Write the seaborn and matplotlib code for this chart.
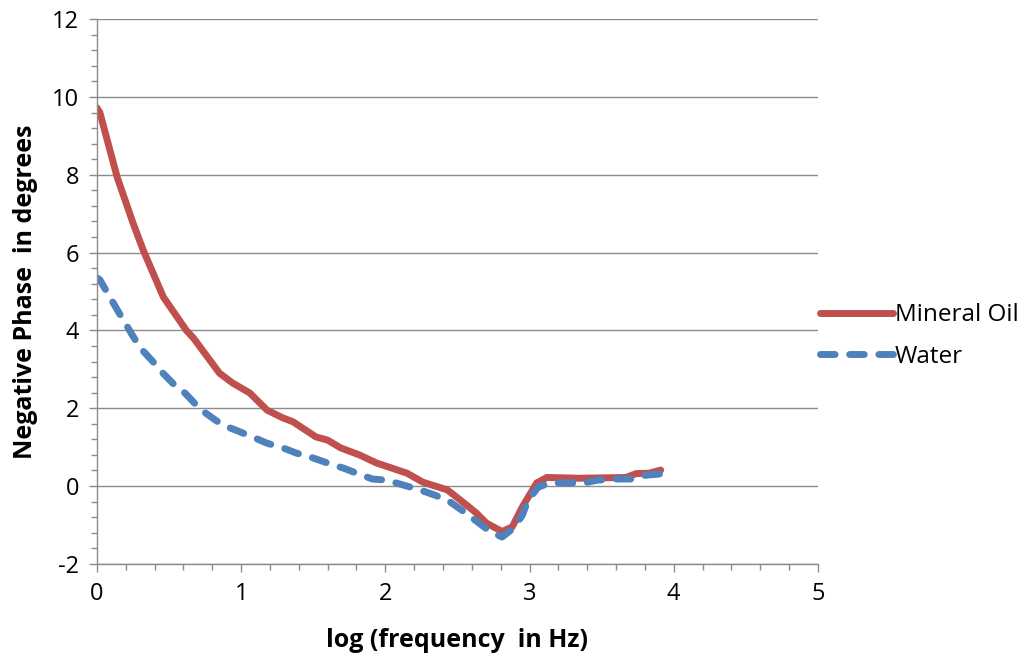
import matplotlib
matplotlib.use("Agg")
import matplotlib.pyplot as plt
import seaborn as sns
import pandas as pd
from matplotlib.ticker import MultipleLocator

sns.set_theme(style="white")
plt.rcParams['font.family'] = ['Open Sans', 'DejaVu Sans']
plt.rcParams['axes.unicode_minus'] = False
plt.rcParams['text.color'] = 'black'
plt.rcParams['axes.labelcolor'] = 'black'

oil_x = [0.0, 0.02, 0.14, 0.25, 0.32, 0.46, 0.62, 0.67, 0.85, 0.94, 1.06, 1.18, 1.29, 1.36,
         1.52, 1.60, 1.69, 1.82, 1.94, 2.03, 2.15, 2.26, 2.43, 2.52, 2.63, 2.70, 2.81, 2.88,
         2.95, 3.05, 3.12, 3.35, 3.67, 3.74, 3.83, 3.91]
oil_y = [9.72, 9.6, 7.94, 6.76, 6.07, 4.86, 4.0, 3.8, 2.9, 2.65, 2.39, 1.95, 1.75, 1.65,
         1.26, 1.18, 0.98, 0.80, 0.59, 0.48, 0.33, 0.10, -0.10, -0.36, -0.69, -0.95, -1.17, -1.05,
         -0.54, 0.08, 0.22, 0.20, 0.22, 0.32, 0.33, 0.41]

water_x = [0.0, 0.02, 0.15, 0.25, 0.30, 0.39, 0.45, 0.55, 0.61, 0.71, 0.77, 0.87, 0.96, 1.08,
           1.18, 1.29, 1.38, 1.50, 1.60, 1.71, 1.80, 1.91, 2.01, 2.12, 2.24, 2.34, 2.43, 2.53,
           2.62, 2.73, 2.81, 2.89, 2.95, 2.99, 3.06, 3.14, 3.26, 3.38, 3.47, 3.58, 3.70, 3.81, 3.91]
water_y = [5.35, 5.3, 4.47, 3.85, 3.55, 3.19, 2.93, 2.55, 2.39, 2.0, 1.83, 1.57, 1.44, 1.26,
           1.1, 0.98, 0.85, 0.72, 0.59, 0.46, 0.33, 0.18, 0.15, 0.03, -0.1, -0.23, -0.36, -0.62,
           -0.87, -1.18, -1.31, -1.08, -0.75, -0.36, -0.03, 0.08, 0.08, 0.08, 0.15, 0.18, 0.18, 0.28, 0.31]

series_names = ["Mineral Oil", "Water"]

df = pd.concat([
    pd.DataFrame({"x": oil_x, "y": oil_y, "series": series_names[0]}),
    pd.DataFrame({"x": water_x, "y": water_y, "series": series_names[1]}),
])

fig = plt.figure(figsize=(10.24, 6.61), dpi=100)
ax = fig.add_axes([0.0947, 0.147, 0.704, 0.824])

palette = {"Mineral Oil": "#C0504D", "Water": "#4F81BD"}
sns.lineplot(data=df, x="x", y="y", hue="series", style="series", palette=palette,
             dashes={"Mineral Oil": "", "Water": (2.1, 2.1)}, linewidth=5.0,
             sort=False, estimator=None, ax=ax, legend=True)
for line in ax.get_lines():
    line.set_solid_capstyle("round")
    line.set_dash_capstyle("round")
    line.set_solid_joinstyle("round")
    line.set_dash_joinstyle("round")

ax.set_xlim(0, 5)
ax.set_ylim(-2, 12)
ax.xaxis.set_major_locator(MultipleLocator(1))
ax.xaxis.set_minor_locator(MultipleLocator(0.2))
ax.yaxis.set_major_locator(MultipleLocator(2))
ax.yaxis.set_minor_locator(MultipleLocator(0.4))

gray = "#8C8C8C"
ax.grid(axis="y", which="major", color=gray, linewidth=1.0)
ax.grid(axis="x", visible=False)
ax.set_axisbelow(True)
for s in ["top", "right"]:
    ax.spines[s].set_visible(False)
for s in ["left", "bottom"]:
    ax.spines[s].set_color(gray)
    ax.spines[s].set_linewidth(1.0)

ax.tick_params(axis="both", which="major", direction="out", length=6, width=1, color=gray,
               labelsize=17, labelcolor="black", left=True, bottom=True, pad=7)
ax.tick_params(axis="both", which="minor", direction="out", length=4, width=1, color=gray,
               left=True, bottom=True)

ax.set_xlabel("log (frequency  in Hz)", fontsize=18, fontweight="bold", labelpad=16)
ax.set_ylabel("Negative Phase  in degrees", fontsize=18, fontweight="bold", labelpad=10)

handles, labels = ax.get_legend_handles_labels()
leg = ax.legend(handles, labels, loc="center left",
                bbox_to_anchor=(818 / 1024, 1 - 336 / 661), bbox_transform=fig.transFigure,
                frameon=False, fontsize=17.5, handlelength=3.0, handletextpad=0.05,
                labelspacing=0.7, borderaxespad=0.0, borderpad=0.1)

fig.savefig("out.png", dpi=100)
